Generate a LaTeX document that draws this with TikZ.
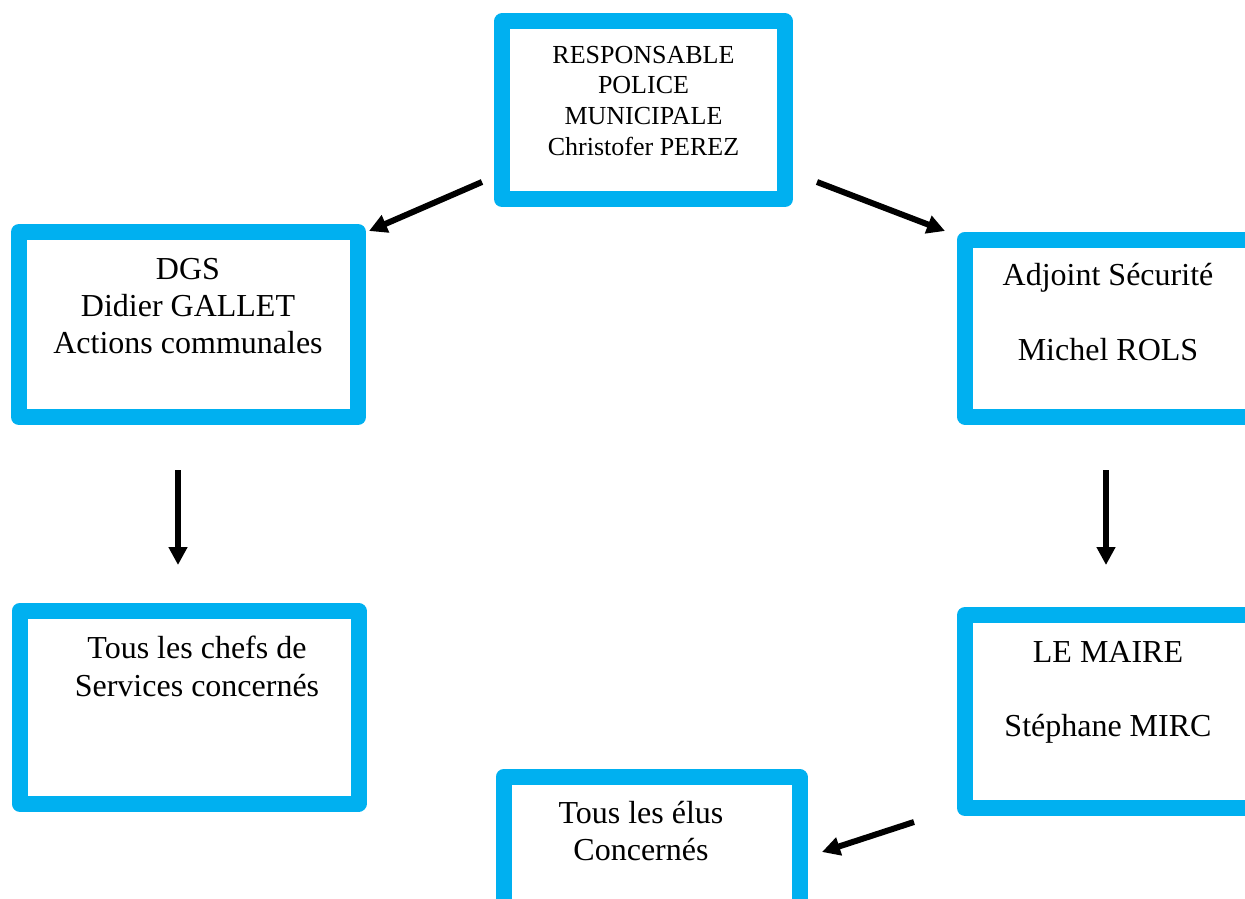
\documentclass[tikz,border=0pt]{standalone}
\usepackage{fontspec}
\setmainfont{Liberation Serif}
\usetikzlibrary{arrows.meta}
\definecolor{boxblue}{HTML}{00B0F0}
\tikzset{
  box/.style={draw=boxblue, line width=16pt, fill=white, rectangle, inner sep=0pt, outer sep=0pt, line join=round},
  txt/.style={anchor=north, inner sep=0pt, align=center, text=black, font={\fontsize{32}{37.3}\selectfont}},
  smalltxt/.style={txt, font={\fontsize{26}{30.7}\selectfont}},
  conn/.style={line width=6pt, -{Triangle[length=18pt,width=18pt]}, black}
}
\begin{document}
\begin{tikzpicture}[x=1pt,y=-1pt]
\clip (0,0) rectangle (1245,899);
\fill[white] (0,0) rectangle (1245,899);
% boxes
\node[box, minimum width=283pt, minimum height=177.5pt] (b1) at (643.5,110.25) {};
\node[box, minimum width=339pt, minimum height=185pt] (b2) at (188.5,324.5) {};
\node[box, minimum width=295pt, minimum height=177pt] (b3) at (1112.5,328) {};
\node[box, minimum width=339pt, minimum height=192.5pt] (b4) at (189,707.25) {};
\node[box, minimum width=295pt, minimum height=193pt] (b5) at (1112.5,711.5) {};
\node[box, minimum width=296pt, minimum height=143pt] (b6) at (651.5,848.5) {};
% texts
\node[smalltxt] (t1) at (643.5,45.8) {RESPONSABLE\\POLICE\\MUNICIPALE\\Christofer PEREZ};
\node[txt] (t2) at (188,257.8) {DGS\\Didier GALLET\\Actions communales};
\node[txt] (t3) at (1108,263) {Adjoint Sécurité\\[37.5pt]Michel ROLS};
\node[txt] (t4) at (197,636) {Tous les chefs de\\Services concernés};
\node[txt] (t5) at (1108,640.8) {LE MAIRE\\[37.5pt]Stéphane MIRC};
\node[txt] (t6) at (641,801) {Tous les élus\\Concernés};
% connector ends
\coordinate (a1s) at (482,182);
\coordinate (a1e) at (369,231);
\coordinate (a2s) at (817,182);
\coordinate (a2e) at (945,231);
\coordinate (a3s) at (178,470);
\coordinate (a3e) at (178,565);
\coordinate (a4s) at (1106,470);
\coordinate (a4e) at (1106,565);
\coordinate (a5s) at (914,822);
\coordinate (a5e) at (822,852);
\draw[conn] (a1s) -- (a1e);
\draw[conn] (a2s) -- (a2e);
\draw[conn] (a3s) -- (a3e);
\draw[conn] (a4s) -- (a4e);
\draw[conn] (a5s) -- (a5e);
\end{tikzpicture}
\end{document}
